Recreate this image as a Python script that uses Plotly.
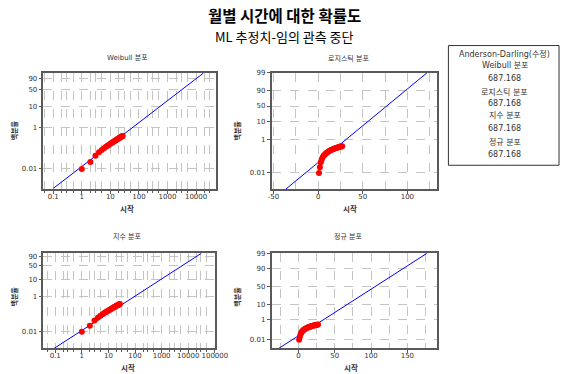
import math
from statistics import NormalDist
import plotly.graph_objects as go

# ---------------- data ----------------
times = [1, 2, 3, 4, 5, 6, 7, 8, 9, 10, 11, 12, 13, 14, 15, 16, 17, 18, 19,
         20, 21, 22, 23, 24, 25, 26, 27]
percents = [0.0095, 0.021, 0.042, 0.062, 0.080, 0.098, 0.115, 0.130, 0.145,
            0.160, 0.175, 0.190, 0.204, 0.218, 0.232, 0.246, 0.260, 0.273,
            0.286, 0.299, 0.312, 0.325, 0.338, 0.350, 0.362, 0.374, 0.386]

# fitted lines (two end points each, percent scale)
weibull_line_time = [0.1, 18000]
weibull_line_pct = [0.0011, 98.6]
logistic_line_time = [-36, 122]
logistic_line_pct = [0.00103, 99.0]
exponential_line_time = [0.092, 31000]
exponential_line_pct = [0.00102, 96.7]
normal_line_time = [-26.7, 176.8]
normal_line_pct = [0.00075, 99.0]

# tick labels
weibull_pct_ticks = [0.01, 1, 10, 50, 90]
weibull_pct_labels = ["0.01", "1", "10", "50", "90"]
sym_pct_ticks = [0.01, 1, 10, 50, 90, 99]
sym_pct_labels = ["0.01", "1", "10", "50", "90", "99"]
weibull_time_ticks = [0.1, 1, 10, 100, 1000, 10000]
weibull_time_labels = ["0.1", "1", "10", "100", "1000", "10000"]
exponential_time_ticks = [0.1, 1, 10, 100, 1000, 10000, 100000]
exponential_time_labels = ["0.1", "1", "10", "100", "1000", "10000", "100000"]
logistic_time_ticks = [-50, 0, 50, 100]
logistic_grid_ticks = [-25, 25, 75, 125]
normal_time_ticks = [0, 50, 100, 150]
normal_grid_ticks = [-25, 25, 75, 125, 175]

title_main = "월별 시간에 대한 확률도"
title_sub = "ML 추정치-임의 관측 중단"
panel_titles = ["Weibull 분포", "로지스틱 분포", "지수 분포", "정규 분포"]
x_label = "시작"
y_label = "백분율"
gof_header = "Anderson-Darling(수정)"
gof_names = ["Weibull 분포", "로지스틱 분포", "지수 분포", "정규 분포"]
gof_values = ["687.168", "687.168", "687.168", "687.168"]

# ---------------- transforms ----------------
ND = NormalDist()


def t_weib(p):
    q = p / 100.0
    return math.log(-math.log(1.0 - q))


def t_logit(p):
    q = p / 100.0
    return math.log(q / (1.0 - q))


def t_norm(p):
    return ND.inv_cdf(p / 100.0)


W, H = 573, 374
FONT = "DejaVu Sans, Noto Sans CJK KR, sans-serif"
KFONT = "Noto Sans CJK KR, DejaVu Sans, sans-serif"
GRID = "#c4c4c4"
FRAME = "#5a5a5a"


def px(x):
    return x / W


def py(y):
    return 1 - y / H


fig = go.Figure()

panels = [
    dict(tr=t_weib, lt=weibull_line_time, lp=weibull_line_pct,
         xd=[px(40.7), px(218)], yd=[py(187), py(69.5)]),
    dict(tr=t_logit, lt=logistic_line_time, lp=logistic_line_pct,
         xd=[px(275.7), px(446.7)], yd=[py(187), py(69.5)]),
    dict(tr=t_weib, lt=exponential_line_time, lp=exponential_line_pct,
         xd=[px(40.7), px(217.3)], yd=[py(348), py(252)]),
    dict(tr=t_norm, lt=normal_line_time, lp=normal_line_pct,
         xd=[px(275.7), px(446.7)], yd=[py(348), py(252)]),
]

for i, pn in enumerate(panels):
    xa = "x" if i == 0 else f"x{i+1}"
    ya = "y" if i == 0 else f"y{i+1}"
    fig.add_trace(go.Scatter(
        x=pn["lt"], y=[pn["tr"](p) for p in pn["lp"]], xaxis=xa, yaxis=ya,
        mode="lines", line=dict(color="#0000ff", width=1),
        hoverinfo="skip", showlegend=False))
    fig.add_trace(go.Scatter(
        x=times, y=[pn["tr"](p) for p in percents], xaxis=xa, yaxis=ya,
        mode="markers", marker=dict(color="#ff0000", size=6),
        showlegend=False))

tickfont = dict(family=FONT, size=7, color="#333333")


def log_minor(lo_dec, hi_dec):
    vals = []
    for d in range(lo_dec, hi_dec + 1):
        for m in (2, 3, 5):
            vals.append(m * 10 ** d)
    return vals


common_x = dict(showline=True, linecolor=FRAME, linewidth=1.5, mirror=True,
                ticks="outside", ticklen=3, tickcolor=FRAME, tickfont=tickfont,
                showgrid=True, gridcolor=GRID, griddash="dash", gridwidth=1,
                zeroline=False, ticklabelstandoff=-3)
common_y = dict(showline=True, linecolor=FRAME, linewidth=1.5, mirror=True,
                ticks="outside", ticklen=3, tickcolor=FRAME, tickfont=tickfont,
                showgrid=True, gridcolor=GRID, griddash="dash", gridwidth=1,
                zeroline=False, tickmode="array")

fig.update_layout(
    xaxis=dict(common_x, domain=panels[0]["xd"], anchor="y", type="log",
               range=[-1.34, 4.68], tickmode="array",
               tickvals=weibull_time_ticks, ticktext=weibull_time_labels,
               minor=dict(tickmode="array", tickvals=log_minor(-2, 4),
                          showgrid=True, gridcolor=GRID, griddash="dash",
                          ticks="outside", ticklen=2, tickcolor=FRAME)),
    yaxis=dict(common_y, domain=panels[0]["yd"], anchor="x",
               range=[-11.48, 1.49],
               tickvals=[t_weib(p) for p in weibull_pct_ticks],
               ticktext=weibull_pct_labels),
    xaxis2=dict(common_x, domain=panels[1]["xd"], anchor="y2",
                range=[-52.2, 133.7], tickmode="array",
                tickvals=logistic_time_ticks,
                ticktext=[str(v) for v in logistic_time_ticks],
                minor=dict(tickmode="array", tickvals=logistic_grid_ticks,
                           showgrid=True, gridcolor=GRID, griddash="dash",
                           ticks="")),
    yaxis2=dict(common_y, domain=panels[1]["yd"], anchor="x2",
                range=[-11.48, 4.6],
                tickvals=[t_logit(p) for p in sym_pct_ticks],
                ticktext=sym_pct_labels),
    xaxis3=dict(common_x, domain=panels[2]["xd"], anchor="y3", type="log",
                range=[-1.44, 5.0], tickmode="array",
                tickvals=exponential_time_ticks,
                ticktext=exponential_time_labels,
                minor=dict(tickmode="array", tickvals=log_minor(-2, 5),
                           showgrid=True, gridcolor=GRID, griddash="dash",
                           ticks="outside", ticklen=2, tickcolor=FRAME)),
    yaxis3=dict(common_y, domain=panels[2]["yd"], anchor="x3",
                range=[-11.49, 1.23],
                tickvals=[t_weib(p) for p in weibull_pct_ticks],
                ticktext=weibull_pct_labels),
    xaxis4=dict(common_x, domain=panels[3]["xd"], anchor="y4",
                range=[-37, 191.4], tickmode="array",
                tickvals=normal_time_ticks,
                ticktext=[str(v) for v in normal_time_ticks],
                minor=dict(tickmode="array", tickvals=normal_grid_ticks,
                           showgrid=True, gridcolor=GRID, griddash="dash",
                           ticks="")),
    yaxis4=dict(common_y, domain=panels[3]["yd"], anchor="x4",
                range=[-4.33, 2.33],
                tickvals=[t_norm(p) for p in sym_pct_ticks],
                ticktext=sym_pct_labels),
)

annotations = []


def ann(text, x, y, size, bold=False, angle=0, color="#000000",
        family=KFONT, height=None):
    t = f"<b>{text}</b>" if bold else text
    a = dict(text=t, x=px(x), y=py(y), xref="paper", yref="paper",
             showarrow=False, xanchor="center", yanchor="middle",
             textangle=angle, borderpad=0,
             font=dict(family=family, size=size, color=color))
    if height is not None:
        a["height"] = height
    annotations.append(a)


ann(title_main, 289, 11.5, 15.5, bold=True)
ann(title_sub, 289, 33, 13)

title_pos = [(127, 55), (355, 55), (127, 235), (355, 235)]
xlab_pos = [(127, 207), (357, 207), (128, 367.5), (358, 367.5)]
ylab_pos = [(10, 128), (240, 128), (10, 296), (240, 296)]
for i in range(4):
    ann(panel_titles[i], *title_pos[i], 7, color="#333333", family=FONT)
    ann(x_label, *xlab_pos[i], 7.5, bold=True, color="#333333", height=9)
    ann(y_label, *ylab_pos[i], 7, bold=True, angle=-90, color="#333333")

legend_y = [50, 62.5, 75, 88, 100.5, 113, 126, 139, 152]
legend_text = [gof_header]
for n, v in zip(gof_names, gof_values):
    legend_text += [n, v]
for t, yy in zip(legend_text, legend_y):
    ann(t, 516, yy, 8, color="#333333", family=FONT, height=11)

fig.update_layout(
    annotations=annotations,
    shapes=[dict(type="rect", xref="paper", yref="paper",
                 x0=px(458), x1=px(572), y0=py(163), y1=py(42),
                 line=dict(color="#333333", width=1))],
    width=W, height=H, margin=dict(l=0, r=0, t=0, b=0),
    paper_bgcolor="white", plot_bgcolor="white",
    font=dict(family=FONT),
)

fig.write_html("out.html",
               config={"displayModeBar": False},
               post_script="document.body.style.margin='0';"
                           "document.body.style.padding='0';")
